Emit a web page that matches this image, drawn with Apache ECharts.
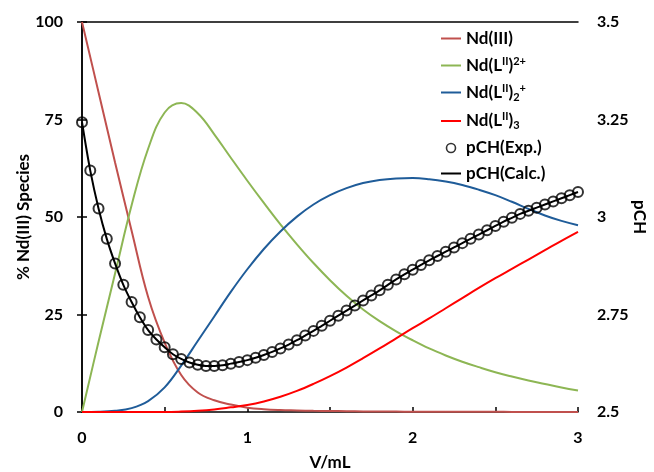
<!DOCTYPE html>
<html>
<head>
<meta charset="utf-8">
<script src="https://cdn.jsdelivr.net/npm/echarts@6/dist/echarts.min.js"></script>
<style>
  html, body { margin: 0; padding: 0; background: #fff; }
  #chart { width: 654px; height: 472px; }
</style>
</head>
<body>
<div id="chart"></div>
<script>
// Titrant volume (mL) for the pCH readings
const volume = [
  0.00, 0.05, 0.10, 0.15, 0.20, 0.25, 0.30, 0.35, 0.40, 0.45,
  0.50, 0.55, 0.60, 0.65, 0.70, 0.75, 0.80, 0.85, 0.90, 0.95,
  1.00, 1.05, 1.10, 1.15, 1.20, 1.25, 1.30, 1.35, 1.40, 1.45,
  1.50, 1.55, 1.60, 1.65, 1.70, 1.75, 1.80, 1.85, 1.90, 1.95,
  2.00, 2.05, 2.10, 2.15, 2.20, 2.25, 2.30, 2.35, 2.40, 2.45,
  2.50, 2.55, 2.60, 2.65, 2.70, 2.75, 2.80, 2.85, 2.90, 2.95,
  3.00
];

// Measured pCH
const pchExp = [
  3.243, 3.119, 3.022, 2.944, 2.881, 2.826, 2.782, 2.743, 2.710, 2.686,
  2.666, 2.648, 2.636, 2.627, 2.621, 2.618, 2.618, 2.620, 2.624, 2.628,
  2.633, 2.639, 2.646, 2.654, 2.663, 2.673, 2.684, 2.696, 2.708, 2.721,
  2.734, 2.747, 2.760, 2.773, 2.786, 2.799, 2.812, 2.826, 2.840, 2.853,
  2.865, 2.877, 2.889, 2.900, 2.911, 2.922, 2.933, 2.944, 2.955, 2.966,
  2.977, 2.988, 2.998, 3.008, 3.016, 3.024, 3.032, 3.040, 3.048, 3.056,
  3.064
];

// Fitted pCH curve
const pchCalc = [
  3.243, 3.119, 3.022, 2.944, 2.881, 2.826, 2.782, 2.743, 2.710, 2.686,
  2.666, 2.648, 2.636, 2.627, 2.621, 2.618, 2.618, 2.620, 2.624, 2.628,
  2.633, 2.639, 2.646, 2.654, 2.663, 2.673, 2.684, 2.696, 2.708, 2.721,
  2.734, 2.747, 2.760, 2.773, 2.786, 2.799, 2.812, 2.826, 2.840, 2.853,
  2.865, 2.877, 2.889, 2.900, 2.911, 2.922, 2.933, 2.944, 2.955, 2.966,
  2.977, 2.988, 2.998, 3.008, 3.016, 3.024, 3.032, 3.040, 3.048, 3.056,
  3.064
];

// Volume grid (mL) for the species distribution
const speciesVol = [
  0.0, 0.1, 0.2, 0.3, 0.4, 0.5, 0.6, 0.7, 0.8, 0.9,
  1.0, 1.1, 1.2, 1.3, 1.4, 1.5, 1.6, 1.7, 1.8, 1.9,
  2.0, 2.1, 2.2, 2.3, 2.4, 2.5, 2.6, 2.7, 2.8, 2.9,
  3.0
];

// % of total Nd(III) in each species
const ndFree = [
  100, 82, 64, 46.5, 29.5, 17.8, 9.5, 5.0, 3.0, 1.9,
  1.1, 0.7, 0.5, 0.4, 0.3, 0.25, 0.2, 0.15, 0.12, 0.1,
  0.08, 0.07, 0.06, 0.05, 0.04, 0.04, 0.03, 0.03, 0.02, 0.02,
  0.02
];
const ndL1 = [
  0, 18, 35.5, 53, 67.5, 76.8, 79.2, 76.6, 71.2, 65.2,
  59.3, 53.6, 48.1, 43.0, 38.2, 33.8, 29.8, 26.3, 23.3, 20.7,
  18.4, 16.3, 14.5, 12.9, 11.5, 10.2, 9.1, 8.1, 7.2, 6.3,
  5.5
];
const ndL2 = [
  0, 0.05, 0.3, 1.0, 2.8, 6.3, 11.9, 18.2, 24.5, 30.8,
  36.6, 41.8, 46.3, 50.1, 53.2, 55.6, 57.4, 58.7, 59.5, 59.9,
  60, 59.7, 59.1, 58.2, 57, 55.6, 53.9, 52.1, 50.4, 49,
  47.9
];
const ndL3 = [
  0, 0, 0, 0, 0, 0, 0.1, 0.3, 0.65, 1.2,
  1.8, 2.7, 3.9, 5.4, 7.2, 9.2, 11.4, 13.8, 16.3, 18.9,
  21.5, 24.0, 26.6, 29.2, 31.8, 34.3, 36.7, 39.1, 41.5, 43.9,
  46.2
];

// Axis tick values
const xTicks = [0, 1, 2, 3];
const leftTicks = [0, 25, 50, 75, 100];
const rightTicks = [2.5, 2.75, 3, 3.25, 3.5];

const pairs = (xs, ys) => xs.map((x, i) => [x, ys[i]]);

const FONT = 'Lato';
const tickText = { color: '#000', fontFamily: FONT, fontWeight: 'bold', fontSize: 16 };
const nameText = { color: '#000', fontFamily: FONT, fontWeight: 'bold', fontSize: 17 };

// Legend labels with super/subscripts
const legendLabels = {
  'Nd(III)': '{b|Nd(III)}',
  'NdL': '{b|Nd(L}{sup|II}{b|)}{sup|2+}',
  'NdL2': '{b|Nd(L}{sup|II}{b|)}{sub|2}{sup|+}',
  'NdL3': '{b|Nd(L}{sup|II}{b|)}{sub|3}',
  'pCH(Exp.)': '{b|pCH(Exp.)}',
  'pCH(Calc.)': '{b|pCH(Calc.)}'
};

// Thin horizontal bar used as the legend key for line series
const LINE_ICON = 'path://M0,0M0,3.5L20,3.5L20,5.5L0,5.5ZM20,9';

const chart = echarts.init(document.getElementById('chart'), null, { renderer: 'canvas' });

const speciesLine = (name, ys, color) => ({
  name,
  type: 'line',
  xAxisIndex: 0,
  yAxisIndex: 0,
  data: pairs(speciesVol, ys),
  smooth: 0.4,
  symbol: 'none',
  lineStyle: { color, width: 2 },
  itemStyle: { color },
  z: 2
});

chart.setOption({
  animation: false,
  backgroundColor: '#fff',
  grid: { left: 82, right: 76, top: 22, bottom: 60, containLabel: false, outerBoundsMode: 'none' },
  legend: {
    orient: 'vertical',
    left: 441,
    top: 30,
    padding: 0,
    itemWidth: 20,
    itemHeight: 9,
    itemGap: 8.5,
    data: [
      { name: 'Nd(III)', icon: LINE_ICON },
      { name: 'NdL', icon: LINE_ICON },
      { name: 'NdL2', icon: LINE_ICON },
      { name: 'NdL3', icon: LINE_ICON },
      { name: 'pCH(Exp.)', icon: 'circle', itemStyle: { color: '#fff', borderColor: '#000', borderWidth: 1.6 } },
      { name: 'pCH(Calc.)', icon: LINE_ICON }
    ],
    formatter: (name) => legendLabels[name],
    textStyle: {
      color: '#000',
      fontFamily: FONT,
      fontWeight: 'bold',
      fontSize: 17,
      rich: {
        b: { color: '#000', fontFamily: FONT, fontWeight: 'bold', fontSize: 17, lineHeight: 20 },
        sup: { color: '#000', fontFamily: FONT, fontWeight: 'bold', fontSize: 11, lineHeight: 9, verticalAlign: 'top' },
        sub: { color: '#000', fontFamily: FONT, fontWeight: 'bold', fontSize: 11, lineHeight: 9, verticalAlign: 'bottom' }
      }
    }
  },
  xAxis: [
    {
      type: 'value',
      position: 'bottom',
      min: 0,
      max: 3,
      interval: 0.5,
      name: 'V/mL',
      nameLocation: 'middle',
      nameGap: 42,
      nameMoveOverlap: false,
      nameTextStyle: nameText,
      axisLine: { show: true, lineStyle: { color: '#000', width: 1.5 } },
      axisTick: { show: true, inside: true, length: 5, lineStyle: { color: '#000', width: 1.5 } },
      axisLabel: {
        ...tickText,
        margin: 18,
        formatter: (v) => (xTicks.includes(v) ? String(v) : '')
      },
      splitLine: { show: false }
    },
    {
      type: 'value',
      position: 'top',
      min: 0,
      max: 3,
      axisLine: { show: true, lineStyle: { color: '#000', width: 1.5 } },
      axisTick: { show: false },
      axisLabel: { show: false },
      splitLine: { show: false }
    }
  ],
  yAxis: [
    {
      type: 'value',
      position: 'left',
      min: 0,
      max: 100,
      interval: 25,
      name: '% Nd(III) Species',
      nameLocation: 'middle',
      nameGap: 50,
      nameRotate: 90,
      nameMoveOverlap: false,
      nameTextStyle: nameText,
      axisLine: { show: true, lineStyle: { color: '#000', width: 1.5 } },
      axisTick: { show: true, inside: true, length: 5, lineStyle: { color: '#000', width: 1.5 } },
      axisLabel: {
        ...tickText,
        margin: 19,
        formatter: (v) => (leftTicks.includes(v) ? String(v) : '')
      },
      splitLine: { show: false }
    },
    {
      type: 'value',
      position: 'right',
      min: 2.5,
      max: 3.5,
      interval: 0.25,
      name: 'pCH',
      nameLocation: 'middle',
      nameGap: 53,
      nameRotate: -90,
      nameMoveOverlap: false,
      nameTextStyle: nameText,
      axisLine: { show: true, lineStyle: { color: '#000', width: 1.5 } },
      axisTick: { show: true, inside: true, length: 5, lineStyle: { color: '#000', width: 1.5 } },
      axisLabel: {
        ...tickText,
        margin: 19,
        formatter: (v) => {
          const t = rightTicks.find((r) => Math.abs(r - v) < 1e-9);
          return t === undefined ? '' : String(t);
        }
      },
      splitLine: { show: false }
    }
  ],
  series: [
    speciesLine('Nd(III)', ndFree, '#C0504D'),
    speciesLine('NdL', ndL1, '#8DB654'),
    speciesLine('NdL2', ndL2, '#1F5C99'),
    speciesLine('NdL3', ndL3, '#FF0000'),
    {
      name: 'pCH(Calc.)',
      type: 'line',
      xAxisIndex: 0,
      yAxisIndex: 1,
      data: pairs(volume, pchCalc),
      smooth: 0.3,
      symbol: 'none',
      lineStyle: { color: '#000', width: 2 },
      itemStyle: { color: '#000' },
      z: 3
    },
    {
      name: 'pCH(Exp.)',
      type: 'scatter',
      xAxisIndex: 0,
      yAxisIndex: 1,
      data: pairs(volume, pchExp),
      symbol: 'circle',
      symbolSize: 10,
      itemStyle: { color: 'rgba(255,255,255,0)', borderColor: '#000', borderWidth: 2 },
      z: 4
    }
  ]
});
</script>
</body>
</html>
